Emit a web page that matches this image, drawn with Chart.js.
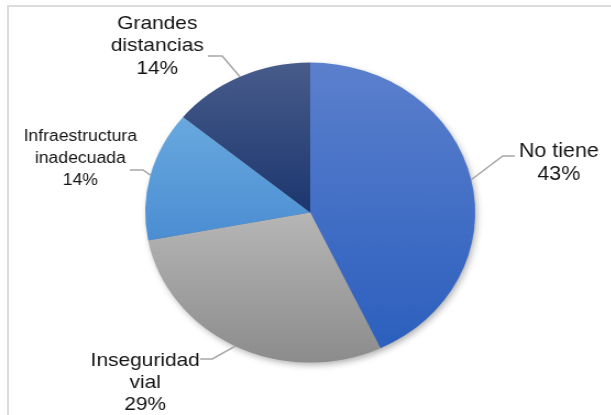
<!DOCTYPE html>
<html>
<head>
<meta charset="utf-8">
<script src="https://cdn.jsdelivr.net/npm/chart.js@4/dist/chart.umd.min.js"></script>
<style>
  html, body { margin: 0; padding: 0; background: #fff; }
  body { width: 611px; height: 415px; position: relative; overflow: hidden; }
  .frame { position: absolute; left: 7px; top: 5px; right: 0; bottom: 0;
           border-top: 2px solid #dcdcdc; border-left: 2px solid #dcdcdc; }
  /* the reference pie is stretched horizontally, so stretch the whole canvas */
  .wrap { position: absolute; left: 0; top: 0; width: 555px; height: 415px;
          transform: scaleX(1.1); transform-origin: 0 0; }
</style>
</head>
<body>
<div class="frame"></div>
<div class="wrap"><canvas id="pieChart"></canvas></div>
<script>
// Data
const categories = [['No tiene'], ['Inseguridad', 'vial'], ['Infraestructura', 'inadecuada'], ['Grandes', 'distancias']];
const percents = [43, 29, 14, 14];

// Colours (top, bottom of each slice gradient)
const sliceColors = [
    ['#5b80cd', '#2c5fbe'],
    ['#b6b6b6', '#8c8c8c'],
    ['#69a9df', '#4a8dd2'],
    ['#485c8b', '#1c366e']
];

// Label placement in canvas px (before the 1.1 horizontal stretch)
const labelLayout = [
    { elbow: [457, 156], end: 468, cx: 508, base: 157, step: 22.5, size: 19.5 },
    { elbow: [193, 359], end: 182, cx: 132, base: 366, step: 22, size: 19 },
    { elbow: [130, 170], end: 118, cx: 73, base: 141, step: 22, size: 16 },
    { elbow: [202, 56], end: 189, cx: 143, base: 28.5, step: 22.5, size: 19 }
];

const gradientPlugin = {
    id: 'sliceGradient',
    beforeDatasetsDraw(chart) {
        const ctx = chart.ctx;
        const arcs = chart.getDatasetMeta(0).data;
        if (!arcs.length) return;
        const a0 = arcs[0];
        // soft shadow under the pie
        ctx.save();
        ctx.shadowColor = 'rgba(0,0,0,0.35)';
        ctx.shadowBlur = 7;
        ctx.shadowOffsetX = 2;
        ctx.shadowOffsetY = 3;
        ctx.fillStyle = '#888';
        ctx.beginPath();
        ctx.arc(a0.x, a0.y, a0.outerRadius - 1, 0, Math.PI * 2);
        ctx.fill();
        ctx.restore();

        arcs.forEach((arc, i) => {
            const r = arc.outerRadius;
            // vertical extent of the slice
            let ys = [arc.y, arc.y + r * Math.sin(arc.startAngle), arc.y + r * Math.sin(arc.endAngle)];
            for (let k = -4; k <= 4; k++) {
                const a = Math.PI / 2 + k * Math.PI;
                if (a > arc.startAngle && a < arc.endAngle) ys.push(arc.y + r * Math.sin(a));
            }
            const g = ctx.createLinearGradient(0, Math.min(...ys), 0, Math.max(...ys));
            g.addColorStop(0, sliceColors[i][0]);
            g.addColorStop(1, sliceColors[i][1]);
            arc.options.backgroundColor = g;
        });
    }
};

const labelPlugin = {
    id: 'outsideLabels',
    afterDatasetsDraw(chart) {
        const ctx = chart.ctx;
        const arcs = chart.getDatasetMeta(0).data;
        arcs.forEach((arc, i) => {
            const L = labelLayout[i];
            const mid = (arc.startAngle + arc.endAngle) / 2;
            const px = arc.x + arc.outerRadius * Math.cos(mid);
            const py = arc.y + arc.outerRadius * Math.sin(mid);
            ctx.save();
            ctx.strokeStyle = '#a6a6a6';
            ctx.lineWidth = 1.5;
            ctx.beginPath();
            ctx.moveTo(px, py);
            ctx.lineTo(L.elbow[0], L.elbow[1]);
            ctx.lineTo(L.end, L.elbow[1]);
            ctx.stroke();

            ctx.fillStyle = '#141414';
            ctx.font = L.size + "px 'Liberation Sans', Arial, sans-serif";
            ctx.textAlign = 'center';
            ctx.textBaseline = 'alphabetic';
            const lines = categories[i].concat([percents[i] + '%']);
            lines.forEach((t, j) => ctx.fillText(t, L.cx, L.base + j * L.step));
            ctx.restore();
        });
    }
};

const ctxPie = document.getElementById('pieChart').getContext('2d');
const chart = new Chart(ctxPie, {
    type: 'pie',
    data: {
        labels: categories,
        datasets: [{
            data: percents,
            backgroundColor: sliceColors.map(c => c[0]),
            borderWidth: 0
        }]
    },
    options: {
        responsive: true,
        maintainAspectRatio: false,
        animation: false,
        layout: { padding: { left: 132, right: 123, top: 62.5, bottom: 52.5 } },
        plugins: { legend: { display: false }, tooltip: { enabled: false } }
    },
    plugins: [gradientPlugin, labelPlugin]
});
</script>
</body>
</html>
